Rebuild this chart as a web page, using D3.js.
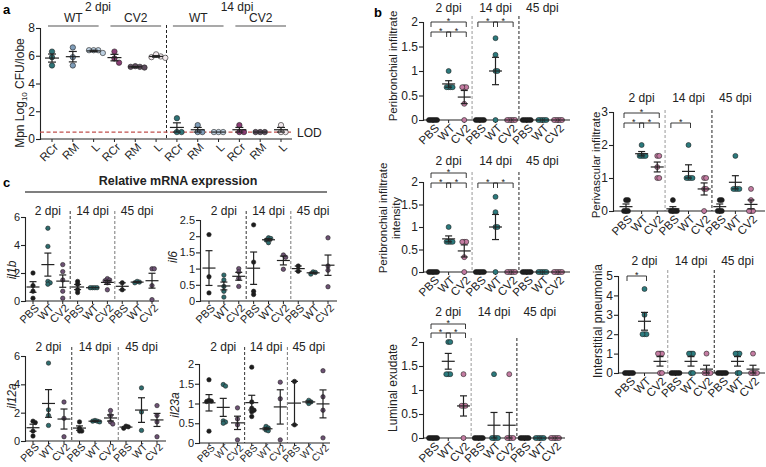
<!DOCTYPE html>
<html><head><meta charset="utf-8">
<script src="https://cdn.jsdelivr.net/npm/d3@7"></script>
<style>body{margin:0;background:#fff}svg{font-family:"Liberation Sans",Arial,Helvetica,sans-serif;display:block}</style>
</head><body><svg id="fig" width="766" height="467"></svg>
<script>
// ---------------- DATA ----------------
const dpiLabels = ["2 dpi","14 dpi","45 dpi"];
const treatments = ["PBS","WT","CV2"];
const tissues = ["RCr","RM","L"];
const cfuStrains = ["WT","CV2"];
const cfuDpi = ["2 dpi","14 dpi"];
const cfuTicks = [0,2,4,6,8];
const cfuLOD = 0.5;
// order: 2dpi WT RCr,RM,L, CV2 RCr,RM,L, 14dpi WT RCr,RM,L, CV2 RCr,RM,L
const cfuValues = [
  [6.3,5.9,5.3],[6.6,5.9,5.3],[6.4,6.4,6.4,6.2],
  [6.3,5.8,5.5],[5.25,5.2,5.2,5.15],[6.1,5.95,5.9,5.85],
  [1.5,0.5,0.5],[1.0,0.5,0.5],[0.5,0.5,0.5],
  [1.0,0.5,0.5],[0.5,0.5,0.5],[1.0,0.5,0.5]
];
// histology scores, order: 2dpi PBS,WT,CV2, 14dpi PBS,WT,CV2, 45dpi PBS,WT,CV2
const scoreTicks2 = [0,0.5,1,1.5,2];
const scoreTicks3 = [0,1,2,3];
const scoreTicks5 = [0,1,2,3,4,5];
const periInfiltrate = [
  [0,0,0,0,0],[1,0.67,0.67,0.67,0.67],[0.67,0.67,0.67,0.33,0],
  [0,0,0,0,0],[1.67,1.33,1,1,0],[0,0,0,0,0],
  [0,0,0,0,0],[0,0,0,0,0],[0,0,0,0,0]
];
const periIntensity = [
  [0,0,0,0,0],[1,0.67,0.67,0.67,0.67],[0.67,0.67,0.67,0.33,0],
  [0,0,0,0,0],[1.67,1.33,1,1,0],[0,0,0,0,0],
  [0,0,0,0,0],[0,0,0,0,0],[0,0,0,0,0]
];
const luminalExudate = [
  [0,0,0,0,0],[2,2,1.33,1.33,1.33],[1.33,0.67,0.67,0.67,0],
  [0,0,0,0,0],[1.33,0,0,0,0],[1.33,0,0,0,0],
  [0,0,0,0,0],[0,0,0,0,0],[0,0,0,0,0]
];
const perivascular = [
  [0.33,0.33,0,0,0],[2,1.67,1.67,1.67,1.67],[1.67,1.67,1.33,1,1],
  [0.33,0,0,0,0],[2,1,1,1,1],[1,1,0.67,0.67,0],
  [0.33,0.33,0,0,0],[1.67,0.67,0.67,0.67,0.67],[0.67,0.33,0,0,0]
];
const interstitial = [
  [0,0,0,0,0],[4.33,3,2,2,2],[1,1,1,0,0],
  [0,0,0,0,0],[1,1,1,0,0],[1,0,0,0,0],
  [0,0,0,0,0],[1,1,1,0,0],[1,0,0,0,0]
];
// relative mRNA expression
const il1bTicks = [0,2,4,6];
const il6Ticks = [0,0.5,1,1.5,2,2.5];
const il12aTicks = [0,2,4,6];
const il23aTicks = [0,0.5,1,1.5,2];
const il1b = [
  [2.0,1.1,0.7,0.2],[5.2,3.9,1.4,1.3,1.2],[2.6,2.1,1.5,0.7,0.2],
  [1.4,1.2,0.8,0.6],[0.95,0.95,0.95,0.95],[1.6,1.5,1.45,1.3,0.8],
  [1.3,0.8],[1.4,1.35,1.3],[2.3,2.3,1.1,0.1]
];
const il6 = [
  [2.05,0.75,0.25],[0.8,0.65,0.45,0.3,0.12],[1.0,0.9,0.7,0.45],
  [2.35,1.2,0.3,0.2],[1.95,1.93,1.88,1.8],[1.42,1.35,0.98],
  [1.08,0.92],[0.9,0.88,0.83],[1.95,1.08,0.95,0.44]
];
const il12a = [
  [1.4,1.3,0.7,0.35],[5.5,2.2,1.8,1.1],[2.75,1.6,0.3],
  [1.35,0.9,0.7,0.7],[1.45,1.4,1.4,1.35],[2.15,1.8,1.35,1.2],
  [1.05,1.0,0.9],[3.75,2.05,0.75],[2.5,1.8,1.35,0.3]
];
const il23a = [
  [1.6,1.08,1.06,1.05,0.3],[1.48,1.44,0.56,0.53,0.5],[0.89,0.61,0.46,0.08],
  [1.92,1.04,0.88,0.83,0.79,0.67],[0.42,0.38,0.33,0.31],[1.54,1.12,0.08],
  [1.56,0.46],[1.08,1.04,1.0],[1.83,1.17,0.83,0.13]
];

// ---------------- DRAWING ----------------
const svg = d3.select("#fig");
const INK = "#222";
const cfuColors = ["#2e7377","#7e9cb8","#bccfe0","#8a3d74","#5e4d5e","#f2e8ec"];
const bCol = ["#1c1c1c","#2b7a7d","#c47ca2"];
const cCol = ["#1c1c1c","#2d6c6e","#6d5274"];

function swarm(vals, y, step, minD){
  const placed = [];
  vals.map(v=>v).sort((a,b)=>b-a).forEach(v=>{
    const py = y(v);
    for(let k=0;k<60;k++){
      const m = k===0?0:(k%2===1?Math.ceil(k/2):-Math.ceil(k/2));
      const dx = m*step;
      if(placed.every(p=>Math.hypot(p.dx-dx,p.py-py)>=minD-1e-6)){placed.push({v,dx,py});break;}
    }
  });
  return placed;
}

function scatterPanel(o){
  const n = o.data.length;
  const x = d3.scalePoint().domain(d3.range(n)).range(o.pts);
  const y = d3.scaleLinear().domain([0,o.yMax]).range([o.yBot,o.yTop]);
  const g = svg.append("g");
  const per = n/o.sections;
  // dividers
  for(let k=1;k<o.sections;k++){
    const dx = (x(k*per-1)+x(k*per))/2;
    g.append("line").attr("x1",dx).attr("x2",dx).attr("y1",o.divTop).attr("y2",o.yBot)
      .attr("stroke",o.divColors[k-1]).attr("stroke-width",1).attr("stroke-dasharray","3,2");
  }
  // headers
  if(o.headers){
    o.headers.forEach((h,k)=>{
      g.append("text").attr("x",o.headerX?o.headerX[k]:x(k*per+(per-1)/2)).attr("y",o.headerY)
        .attr("text-anchor","middle").attr("font-size",o.hfs||12).attr("fill",INK).text(h);
    });
  }
  // y axis
  const ya = g.append("g").attr("transform",`translate(${o.ax[0]},0)`)
    .call(d3.axisLeft(y).tickValues(o.ticks).tickSizeOuter(0).tickSize(4).tickPadding(1).tickFormat(d=>String(d)));
  ya.attr("font-family",null).attr("font-size",o.tfs||12);
  ya.selectAll("path,line").attr("stroke",INK).attr("stroke-width",1.1);
  ya.selectAll("text").attr("fill",INK);
  // x axis
  g.append("line").attr("x1",o.ax[0]).attr("x2",o.ax[1]).attr("y1",o.yBot).attr("y2",o.yBot)
    .attr("stroke",INK).attr("stroke-width",1.1);
  d3.range(n).forEach(i=>{
    g.append("line").attr("x1",x(i)).attr("x2",x(i)).attr("y1",o.yBot).attr("y2",o.yBot+3)
      .attr("stroke",INK).attr("stroke-width",1);
    g.append("text").attr("transform",`translate(${x(i)+4},${o.yBot+(o.xoff||6)}) rotate(-45)`)
      .attr("text-anchor","end").attr("dy","0.35em").attr("font-size",o.xfs||12).attr("fill",INK)
      .text(o.labels[i%o.labels.length]);
  });
  if(o.before) o.before(g,x,y);
  // data
  o.data.forEach((vals,i)=>{
    const col = o.color(i);
    const pts = swarm(vals,y,o.step,o.minD);
    const cx = x(i);
    g.append("g").selectAll("circle").data(pts).join("circle")
      .attr("cx",d=>cx+d.dx).attr("cy",d=>d.py).attr("r",o.r)
      .attr("fill",col).attr("stroke",INK).attr("stroke-width",0.6);
    const m = d3.mean(vals);
    const s = vals.length>1 ? d3.deviation(vals)/Math.sqrt(vals.length) : 0;
    const bw = 1.2;
    g.append("line").attr("x1",cx-o.meanW/2).attr("x2",cx+o.meanW/2).attr("y1",y(m)).attr("y2",y(m))
      .attr("stroke",INK).attr("stroke-width",bw);
    if(s>0.001){
      g.append("line").attr("x1",cx).attr("x2",cx).attr("y1",y(Math.max(0,m-s))).attr("y2",y(m+s))
        .attr("stroke",INK).attr("stroke-width",bw);
      [m+s, Math.max(0,m-s)].forEach(v=>{
        g.append("line").attr("x1",cx-o.capW/2).attr("x2",cx+o.capW/2).attr("y1",y(v)).attr("y2",y(v))
          .attr("stroke",INK).attr("stroke-width",bw);
      });
    }
  });
  // brackets
  (o.brackets||[]).forEach(b=>{
    const x1 = x(b[0])-2, x2 = x(b[1])+2, yb = b[2];
    g.append("path").attr("d",`M${x1},${yb+5}V${yb}H${x2}V${yb+5}`)
      .attr("fill","none").attr("stroke",INK).attr("stroke-width",0.9);
    g.append("text").attr("x",(x1+x2)/2).attr("y",yb+2).attr("text-anchor","middle")
      .attr("font-size",9).attr("fill",INK).text("*");
  });
  // y label
  if(o.ylab){
    const t = g.append("text").attr("transform",`translate(${o.ylabX},${o.ylabY}) rotate(-90)`)
      .attr("text-anchor","middle").attr("font-size",o.lfs||12).attr("fill",INK);
    if(o.italic) t.attr("font-style","italic");
    o.ylab.forEach((line,li)=>{
      t.append("tspan").attr("x",0).attr("y",li*13).text(line);
    });
  }
  return {g,x,y};
}

// ---------- Panel a ----------
svg.append("text").attr("x",3).attr("y",14).attr("font-size",13).attr("font-weight","bold").text("a");
scatterPanel({
  data: cfuValues, labels: tissues, sections: 2,
  pts:[52,281], ax:[40,292], yBot:139, yTop:28, yMax:8, ticks:cfuTicks,
  color:i=>cfuColors[i%6], r:2.7, step:4.6, minD:4.6, meanW:14, capW:8,
  divTop:25, divColors:["#222"], xfs:11.5,
  headers: cfuDpi, headerX:[98,237], headerY:11, hfs:12,
  before:(g,x,y)=>{
    g.append("line").attr("x1",40).attr("x2",292).attr("y1",y(cfuLOD)).attr("y2",y(cfuLOD))
      .attr("stroke","#c0504d").attr("stroke-width",1.2).attr("stroke-dasharray","4,2.5");
    g.append("text").attr("x",297).attr("y",y(cfuLOD)+4.5).attr("font-size",12).attr("fill",INK).text("LOD");
    [0,1,2,3].forEach(k=>{
      const i0 = k*3, i1 = k*3+2;
      const x1 = x(i0)-4, x2 = x(i1)+5;
      g.append("line").attr("x1",x1).attr("x2",x2).attr("y1",26).attr("y2",26).attr("stroke","#555").attr("stroke-width",1.2);
      g.append("text").attr("x",(x1+x2)/2).attr("y",22).attr("text-anchor","middle").attr("font-size",12)
        .attr("fill",INK).text(cfuStrains[k%2]);
    });
  }
});
{
  const t = svg.append("text").attr("transform","translate(24,93) rotate(-90)").attr("text-anchor","middle")
    .attr("font-size",12).attr("fill",INK);
  t.append("tspan").text("Mpn Log");
  t.append("tspan").attr("font-size",8).attr("dy",3).text("10");
  t.append("tspan").attr("dy",-3).text(" CFU/lobe");
}

// ---------- Panel b ----------
svg.append("text").attr("x",374).attr("y",17).attr("font-size",13).attr("font-weight","bold").text("b");
const bCommon = {labels: treatments, sections:3, color:i=>bCol[i%3], r:2.5, step:2, minD:2,
  meanW:13, capW:7, headers: dpiLabels, hfs:12, divColors:["#999","#222"], tfs:12, xfs:11.5};

scatterPanel(Object.assign({}, bCommon, {
  data: periInfiltrate, pts:[433,558], ax:[423,570], yBot:120, yTop:22, yMax:2, ticks:scoreTicks2,
  headerY:12, divTop:16,
  brackets:[[0,2,22],[0,1,32],[1,2,32],[3,4,22],[4,5,22]],
  ylab:["Peribronchial infiltrate"], ylabX:397, ylabY:66, lfs:11.5
}));
scatterPanel(Object.assign({}, bCommon, {
  data: periIntensity, pts:[433,558], ax:[423,570], yBot:272, yTop:182, yMax:2, ticks:scoreTicks2,
  headerY:165, divTop:172,
  brackets:[[0,2,173],[0,1,183],[1,2,183],[3,4,183],[4,5,183]],
  ylab:["Peribronchial infiltrate","intensity"], ylabX:387, ylabY:218, lfs:11.5
}));
scatterPanel(Object.assign({}, bCommon, {
  data: luminalExudate, pts:[433,555], ax:[423,565], yBot:438, yTop:342, yMax:2, ticks:scoreTicks2,
  headerY:316, divTop:338,
  brackets:[[0,2,324],[0,1,333],[1,2,333]],
  ylab:["Luminal exudate"], ylabX:397, ylabY:388, lfs:12
}));
scatterPanel(Object.assign({}, bCommon, {
  data: perivascular, pts:[626,751], ax:[613,765], yBot:211, yTop:112, yMax:3, ticks:scoreTicks3,
  headerY:102, divTop:110,
  brackets:[[0,2,113],[0,1,123],[1,2,123],[3,4,123]],
  ylab:["Perivascular infiltrate"], ylabX:600, ylabY:165, lfs:11.5
}));
scatterPanel(Object.assign({}, bCommon, {
  data: interstitial, pts:[629,753], ax:[618,765], yBot:373, yTop:276, yMax:5, ticks:scoreTicks5,
  headerY:265, divTop:270,
  brackets:[[0,1,276]],
  ylab:["Interstitial pneumonia"], ylabX:602, ylabY:321, lfs:12
}));

// ---------- Panel c ----------
svg.append("text").attr("x",3).attr("y",187).attr("font-size",13).attr("font-weight","bold").text("c");
svg.append("text").attr("x",178).attr("y",185).attr("text-anchor","middle").attr("font-size",12.5)
  .attr("font-weight","bold").attr("fill",INK).text("Relative mRNA expression");
svg.append("line").attr("x1",25).attr("x2",327).attr("y1",192).attr("y2",192).attr("stroke","#555").attr("stroke-width",1.3);

const cCommon = {labels: treatments, sections:3, color:i=>cCol[i%3], r:2.2, step:2.3, minD:2.3,
  meanW:13, capW:7, headers: dpiLabels, hfs:12, divColors:["#333","#777"], tfs:11, xfs:11, xoff:5, italic:true};

scatterPanel(Object.assign({}, cCommon, {
  data: il1b, pts:[33,152], ax:[25,159], yBot:301, yTop:217, yMax:6, ticks:il1bTicks,
  headerY:215, divTop:211, ylab:["il1b"], ylabX:16, ylabY:270
}));
scatterPanel(Object.assign({}, cCommon, {
  data: il6, pts:[209,328], ax:[200,337], yBot:301, yTop:220, yMax:2.5, ticks:il6Ticks,
  headerY:215, divTop:211, ylab:["il6"], ylabX:177, ylabY:257
}));
scatterPanel(Object.assign({}, cCommon, {
  data: il12a, pts:[33,157], ax:[25,166], yBot:441, yTop:356, yMax:6, ticks:il12aTicks,
  headerY:351, divTop:347, ylab:["il12a"], ylabX:16, ylabY:396, xfs:10.5, xoff:4
}));
scatterPanel(Object.assign({}, cCommon, {
  data: il23a, pts:[209,323], ax:[199,330], yBot:443, yTop:364, yMax:2, ticks:il23aTicks,
  headerY:351, divTop:347, ylab:["il23a"], ylabX:179, ylabY:405, xfs:10, xoff:3
}));
</script></body></html>
